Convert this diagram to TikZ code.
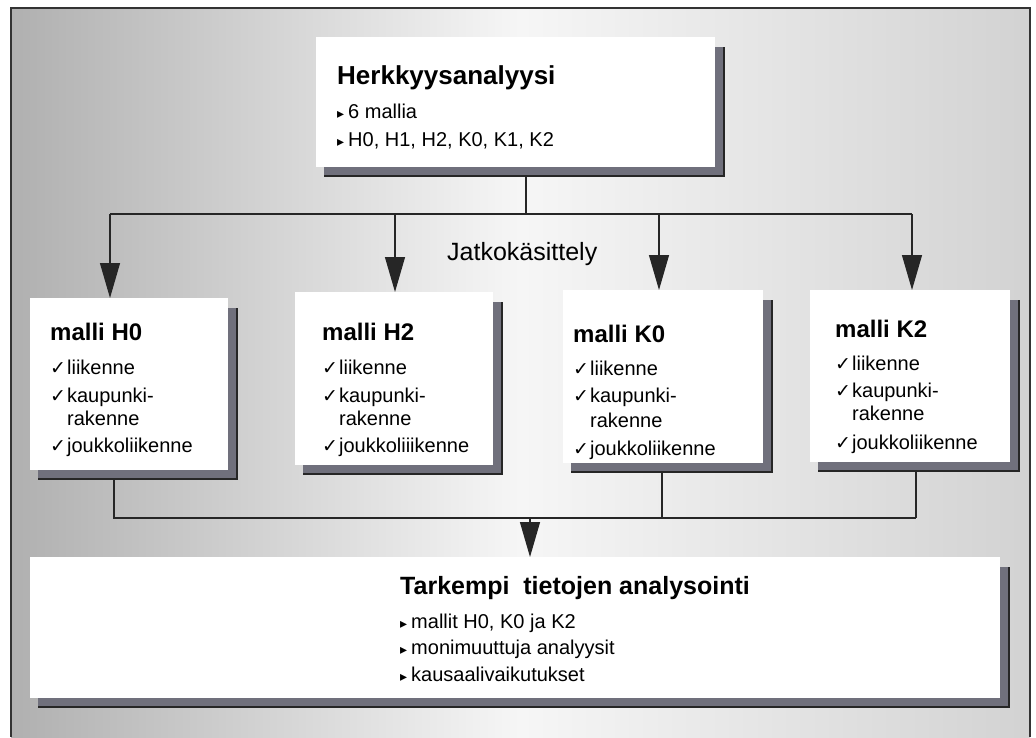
\documentclass[tikz,border=0pt]{standalone}
\usepackage{fontspec}
\setmainfont{Liberation Sans}
\newfontfamily\symfont{DejaVu Sans}
\usetikzlibrary{arrows.meta,calc}
\definecolor{shadegray}{RGB}{112,112,124}
\newcommand{\chk}{{\symfont\fontsize{19}{19}\selectfont ✓}\hspace{1pt}}
\newcommand{\tri}{{\symfont\fontsize{14}{14}\selectfont ▸}\hspace{4pt}}
\newcommand{\boxtitle}[1]{{\fontsize{24}{24}\selectfont\bfseries #1}}
\newcommand{\boxshadow}[1]{%
  \fill[shadegray] ($(#1.north east)+(0,10)$) rectangle ($(#1.south east)+(9,9)$);
  \fill[shadegray] ($(#1.south west)+(8,0)$) rectangle ($(#1.south east)+(9,9)$);
  \draw[shadowedge] ($(#1.north east)+(9,10)$) -- ($(#1.south east)+(9,9)$) -- ($(#1.south west)+(8,9)$);}

\begin{document}
\begin{tikzpicture}[x=1pt,y=-1pt,
    panel/.style={fill=white,inner sep=0pt,outer sep=0pt},
    shadowedge/.style={line width=1.6pt,black!85},
    link/.style={line width=1.2pt,black!85},
    arr/.style={link,-{Triangle[length=35pt,width=20pt]}},
    txt/.style={anchor=north west,inner sep=0pt,align=left,font=\fontsize{20}{23}\selectfont}]
  \useasboundingbox (0,0) rectangle (1036,737);
  % background and frame
  \shade[left color=gray!62,right color=gray!35,middle color=gray!7] (11,8) rectangle (1030,737);
  \draw[line width=1.5pt,black!80] (11,737) -- (11,8) -- (1030,8) -- (1030,737);

  % boxes
  \node[panel,minimum width=399,minimum height=130] (herk) at (515.5,102) {};
  \node[panel,minimum width=198,minimum height=172] (H0) at (129,384) {};
  \node[panel,minimum width=198,minimum height=173] (H2) at (394,378.5) {};
  \node[panel,minimum width=200,minimum height=173] (K0) at (663,376.5) {};
  \node[panel,minimum width=200,minimum height=172] (K2) at (910,376) {};
  \node[panel,minimum width=970,minimum height=141] (tark) at (515,627.5) {};
  \boxshadow{herk}
  \boxshadow{H0}
  \boxshadow{H2}
  \boxshadow{K0}
  \boxshadow{K2}
  \boxshadow{tark}

  % jatkokasittely
  \coordinate (split) at (526,214);
  \coordinate (bH0) at (110,214);
  \coordinate (bH2) at (395,214);
  \coordinate (bK0) at (659,214);
  \coordinate (bK2) at (912,214);
  \draw[link] ($(herk.south -| split)+(0,9)$) -- (split);
  \draw[link] (bH0) -- (bK2);
  \draw[arr] (bH0) -- (bH0 |- H0.north);
  \draw[arr] (bH2) -- (bH2 |- H2.north);
  \draw[arr] (bK0) -- (bK0 |- K0.north);
  \draw[arr] (bK2) -- (bK2 |- K2.north);
  \node[anchor=base west,inner sep=0pt,font=\fontsize{25}{25}\selectfont] (jatko) at (447,260) {Jatkokäsittely};

  % valitut mallit
  \coordinate (mH0) at (114,518);
  \coordinate (mK0) at (662,518);
  \coordinate (mK2) at (916,518);
  \coordinate (mid) at (530,518);
  \draw[link] ($(H0.south -| mH0)+(0,9)$) -- (mH0) -- (mK2);
  \draw[link] ($(K0.south -| mK0)+(0,9)$) -- (mK0);
  \draw[link] ($(K2.south -| mK2)+(0,9)$) -- (mK2);
  \draw[arr] (mid) -- (mid |- tark.north);

  % texts
  \node[txt] (herktxt) at ($(herk.north west)+(21,28)$)
    {{\fontsize{26}{26}\selectfont\bfseries Herkkyysanalyysi}\\[11pt]
     \tri 6 mallia\\[5pt]
     \tri H0, H1, H2, K0, K1, K2};
  \node[txt] (H0txt) at ($(H0.north west)+(20,24.5)$)
    {\boxtitle{malli H0}\\[11pt]
     \chk liikenne\\[5pt]
     \chk kaupunki-\\
     \hphantom{\chk}rakenne\\[4pt]
     \chk joukkoliikenne};
  \node[txt] (H2txt) at ($(H2.north west)+(27,30.5)$)
    {\boxtitle{malli H2}\\[11pt]
     \chk liikenne\\[5pt]
     \chk kaupunki-\\
     \hphantom{\chk}rakenne\\[4pt]
     \chk joukkoliiikenne};
  \node[txt] (K0txt) at ($(K0.north west)+(10,34.5)$)
    {\boxtitle{malli K0}\\[10pt]
     \chk liikenne\\[4pt]
     \chk kaupunki-\\[2pt]
     \hphantom{\chk}rakenne\\[5pt]
     \chk joukkoliikenne};
  \node[txt] (K2txt) at ($(K2.north west)+(25,29.5)$)
    {\boxtitle{malli K2}\\[10pt]
     \chk liikenne\\[4pt]
     \chk kaupunki-\\
     \hphantom{\chk}rakenne\\[6pt]
     \chk joukkoliikenne};
  \node[txt] (tarktxt) at ($(tark.north west)+(370,19.5)$)
    {{\fontsize{25}{25}\selectfont\bfseries Tarkempi\ \ tietojen analysointi}\\[11pt]
     \tri mallit H0, K0 ja K2\\[3pt]
     \tri monimuuttuja analyysit\\[4pt]
     \tri kausaalivaikutukset};
\end{tikzpicture}
\end{document}
